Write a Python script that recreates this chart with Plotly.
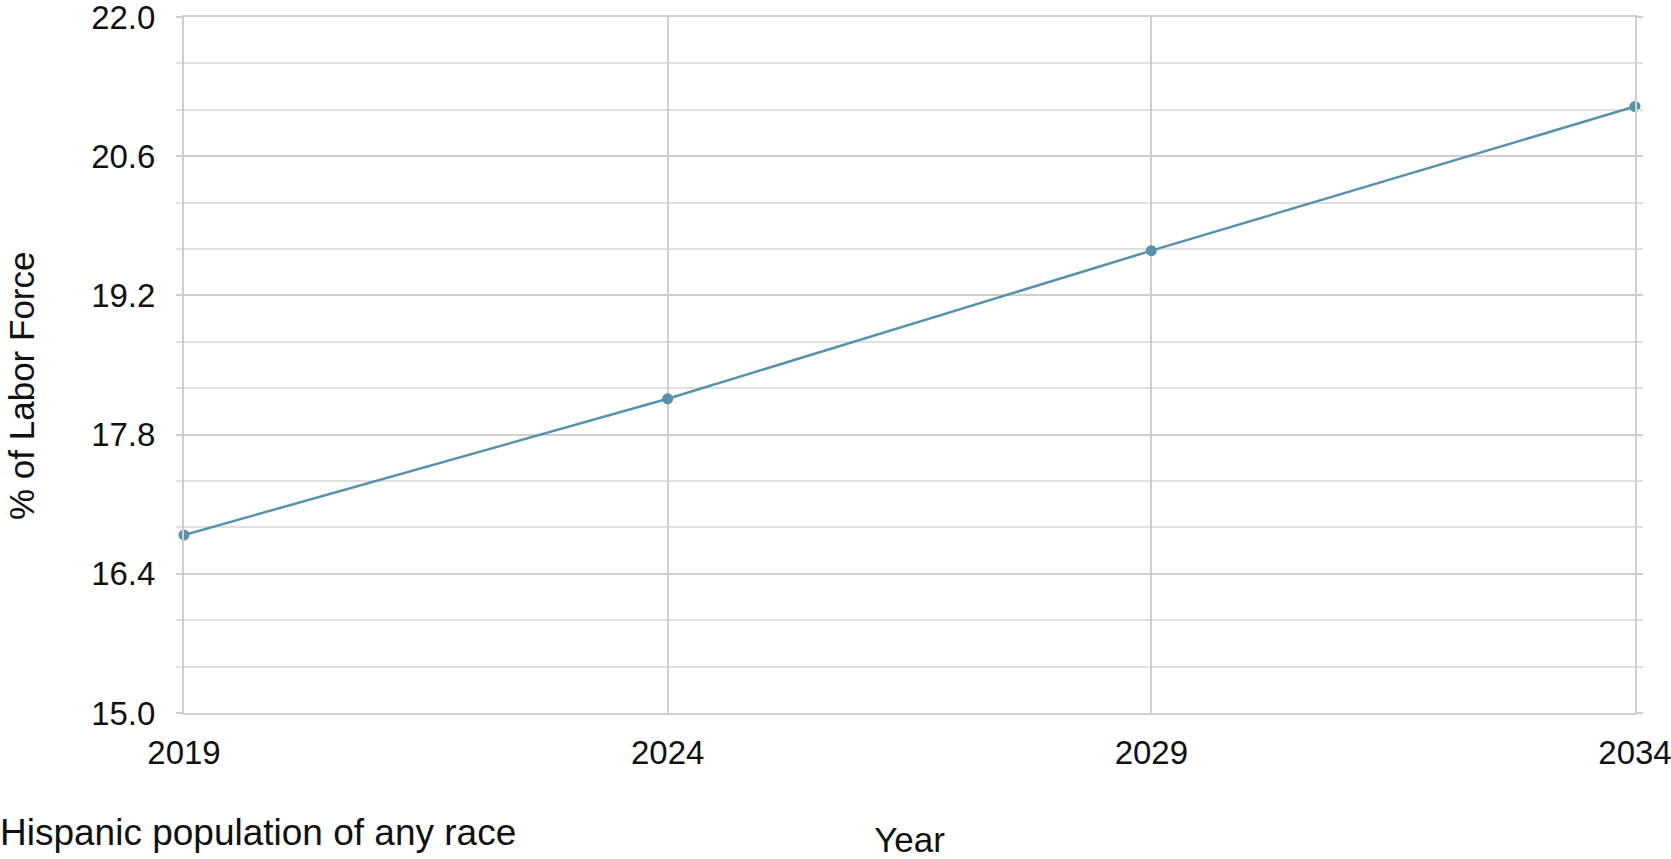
import plotly.graph_objects as go

years = [2019, 2024, 2029, 2034]
labor_share = [16.79, 18.16, 19.65, 21.1]
y_ticks = [15.0, 16.4, 17.8, 19.2, 20.6, 22.0]
y_tick_labels = ["15.0", "16.4", "17.8", "19.2", "20.6", "22.0"]
x_ticks = [2019, 2024, 2029, 2034]

FONT = "Arial, Liberation Sans, sans-serif"
LINE_COLOR = "#5791ab"
GRID = "#cfcfcf"
MINOR_GRID = "#e0e0e0"

W, H = 1671, 859
L, R, T, B = 184, 36, 17, 146

fig = go.Figure()
fig.add_trace(go.Scatter(
    x=years, y=labor_share, mode="lines+markers",
    line=dict(color=LINE_COLOR, width=2.5),
    marker=dict(color=LINE_COLOR, size=11),
    showlegend=False, cliponaxis=False,
))

fig.update_layout(
    width=W, height=H,
    margin=dict(l=L, r=R, t=T, b=B, autoexpand=False),
    paper_bgcolor="white", plot_bgcolor="white",
    font=dict(family=FONT, size=33, color="#111111"),
    title=dict(text="Hispanic population of any race", x=0, xref="container", xanchor="left",
               y=1 - 832 / H, yref="container", yanchor="middle", automargin=False,
               font=dict(family=FONT, size=37, color="#111111"), pad=dict(l=0, r=0, t=0, b=0)),
    showlegend=False,
    annotations=[dict(
        text="% of Labor Force", textangle=-90, showarrow=False,
        xref="paper", yref="paper",
        x=(21 - L) / (W - L - R), y=(H - B - 386) / (H - B - T),
        xanchor="center", yanchor="middle",
        font=dict(family=FONT, size=35, color="#111111"),
    )],
)

fig.update_xaxes(
    range=[2019, 2034], tickvals=x_ticks, ticktext=[str(v) for v in x_ticks],
    showgrid=True, gridcolor=GRID, gridwidth=2, automargin=False,
    zeroline=False, showline=True, linecolor=GRID, linewidth=2, mirror=True,
    ticks="", ticklabelstandoff=9, ticklabeloverflow="allow",
    title=dict(text="Year", standoff=68, font=dict(size=35)),
)
fig.update_yaxes(
    range=[15, 22], tickvals=y_ticks, ticktext=y_tick_labels,
    showgrid=True, gridcolor=GRID, gridwidth=2, automargin=False,
    zeroline=False, showline=True, linecolor=GRID, linewidth=2, mirror="ticks",
    ticks="outside", ticklen=6, tickcolor=GRID, tickwidth=2,
    ticklabelstandoff=14, ticklabeloverflow="allow",
    minor=dict(dtick=1.4 / 3, tick0=15, showgrid=True, gridcolor=MINOR_GRID, gridwidth=2,
               ticks="outside", ticklen=6, tickcolor=MINOR_GRID, tickwidth=2),
)

fig.write_html("out.html", config={"displayModeBar": False},
               post_script="document.body.style.margin='0';")
